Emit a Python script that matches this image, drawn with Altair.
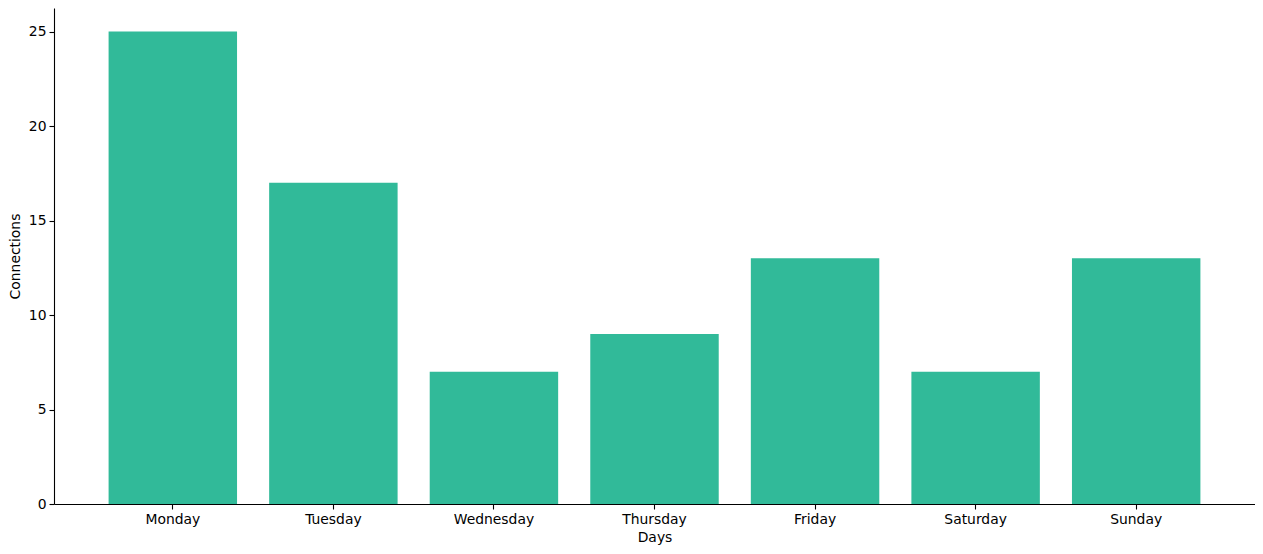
import altair as alt
import pandas as pd

days = ["Monday", "Tuesday", "Wednesday", "Thursday", "Friday", "Saturday", "Sunday"]
connections = [25, 17, 7, 9, 13, 7, 13]

df = pd.DataFrame({"Days": days, "Connections": connections})

font = "DejaVu Sans"

chart = alt.Chart(df).mark_bar(color="#31BA99").encode(
    x=alt.X("Days:N", sort=days,
            scale=alt.Scale(paddingInner=0.2, paddingOuter=0.34),
            axis=alt.Axis(title="Days", labelAngle=0, titlePadding=5)),
    y=alt.Y("Connections:Q",
            scale=alt.Scale(domain=[0, 26.25], nice=False),
            axis=alt.Axis(title="Connections", values=[0, 5, 10, 15, 20, 25], titlePadding=6)),
).properties(
    width=1201, height=496,
    autosize=alt.AutoSizeParams(type="none"),
    padding={"left": 46, "top": 0, "right": 0, "bottom": 42},
).configure_view(stroke=None).configure_axis(
    grid=False,
    domainColor="black",
    tickColor="black",
    tickSize=5,
    labelFont=font,
    labelFontSize=13.9,
    labelColor="black",
    labelPadding=3,
    titleFont=font,
    titleFontSize=13.9,
    titleFontWeight="normal",
    titleColor="black",
    domainWidth=1.1,
    tickWidth=1.1,
)

chart.save("out.html", embed_options={"renderer": "svg", "actions": False})
